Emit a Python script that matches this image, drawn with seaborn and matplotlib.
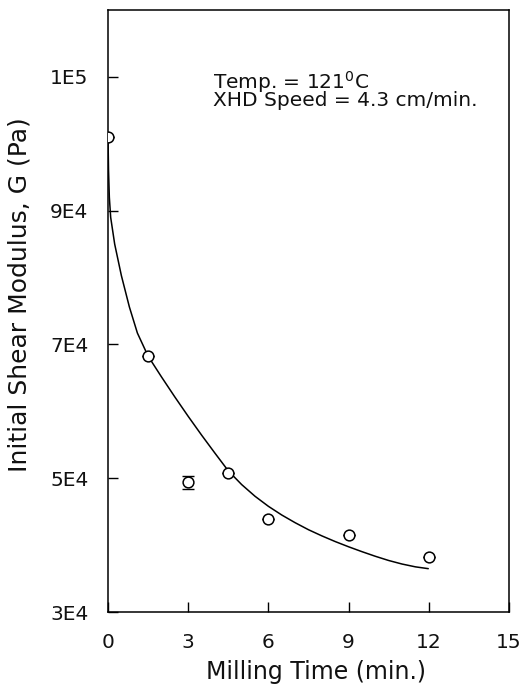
import matplotlib
matplotlib.use("Agg")
import matplotlib.pyplot as plt
import seaborn as sns
import pandas as pd

# measured data
milling_time = [0, 1.5, 3, 4.5, 6, 9, 12]
shear_modulus = [101000, 68250, 49400, 50850, 43840, 41490, 38250]
modulus_err = [0, 0, 1000, 0, 0, 0, 0]

# fitted curve
curve_time = [0.0, 0.02, 0.05, 0.10, 0.25, 0.50, 0.80, 1.10, 1.50, 2.0, 2.5,
              3.0, 3.5, 4.0, 4.5, 5.0, 5.5, 6.0, 6.5, 7.0, 7.5, 8.0, 8.5,
              9.0, 9.5, 10.0, 10.5, 11.0, 11.5, 11.98]
curve_modulus = [101000, 96000, 92000, 89000, 85000, 80300, 75600, 71700,
                 68250, 65150, 62150, 59250, 56450, 53750, 51100, 49050,
                 47300, 45800, 44500, 43350, 42300, 41380, 40530, 39750,
                 39020, 38330, 37700, 37170, 36750, 36480]

x_ticks = [0, 3, 6, 9, 12, 15]
y_ticks = [30000, 50000, 70000, 90000, 110000]
y_tick_labels = ["3E4", "5E4", "7E4", "9E4", "1E5"]

annotation = "Temp. = 121$^{\\mathregular{0}}$C\nXHD Speed = 4.3 cm/min."

sns.set_style("ticks")
plt.rcParams['font.family'] = ['DejaVu Sans']

fig = plt.figure(figsize=(5.29, 6.94), dpi=100)
ax = fig.add_axes([108/529, 1-612/694, 401/529, 602/694])

pts = pd.DataFrame({"t": milling_time, "g": shear_modulus})
crv = pd.DataFrame({"t": curve_time, "g": curve_modulus})

sns.lineplot(data=crv, x="t", y="g", ax=ax, color="black", lw=1.1,
             sort=False, estimator=None)
ax.errorbar(milling_time, shear_modulus, yerr=modulus_err,
            fmt="none", ecolor="black", elinewidth=0, capsize=4.5, capthick=1.0)
sns.scatterplot(data=pts, x="t", y="g", ax=ax, marker="o", s=60,
                facecolors="white", edgecolor="black", linewidth=1.1, zorder=5)

ax.set_xlim(0, 15)
ax.set_ylim(30000, 120000)
ax.set_xticks(x_ticks)
ax.set_yticks(y_ticks)
ax.set_yticklabels(y_tick_labels)
ax.tick_params(axis="both", direction="in", length=7, width=1.0, colors="black",
               labelsize=14.5, labelcolor="#111111")
ax.tick_params(axis="x", pad=15)
ax.tick_params(axis="y", pad=14)
for s in ax.spines.values():
    s.set_visible(True)
    s.set_color("black")
    s.set_linewidth(1.1)

ax.set_xlabel("Milling Time (min.)", fontsize=17, color="#111111")
ax.set_ylabel("Initial Shear Modulus, G (Pa)", fontsize=18, color="#111111")
ax.xaxis.set_label_coords(0.519, -0.08)
ax.yaxis.set_label_coords(-0.19, 0.527)

ax.text(0.262, (612-106)/602, annotation, transform=ax.transAxes,
        fontsize=14.5, ha="left", va="baseline", color="#111111",
        linespacing=0.74)

fig.savefig("out.png", dpi=100)
